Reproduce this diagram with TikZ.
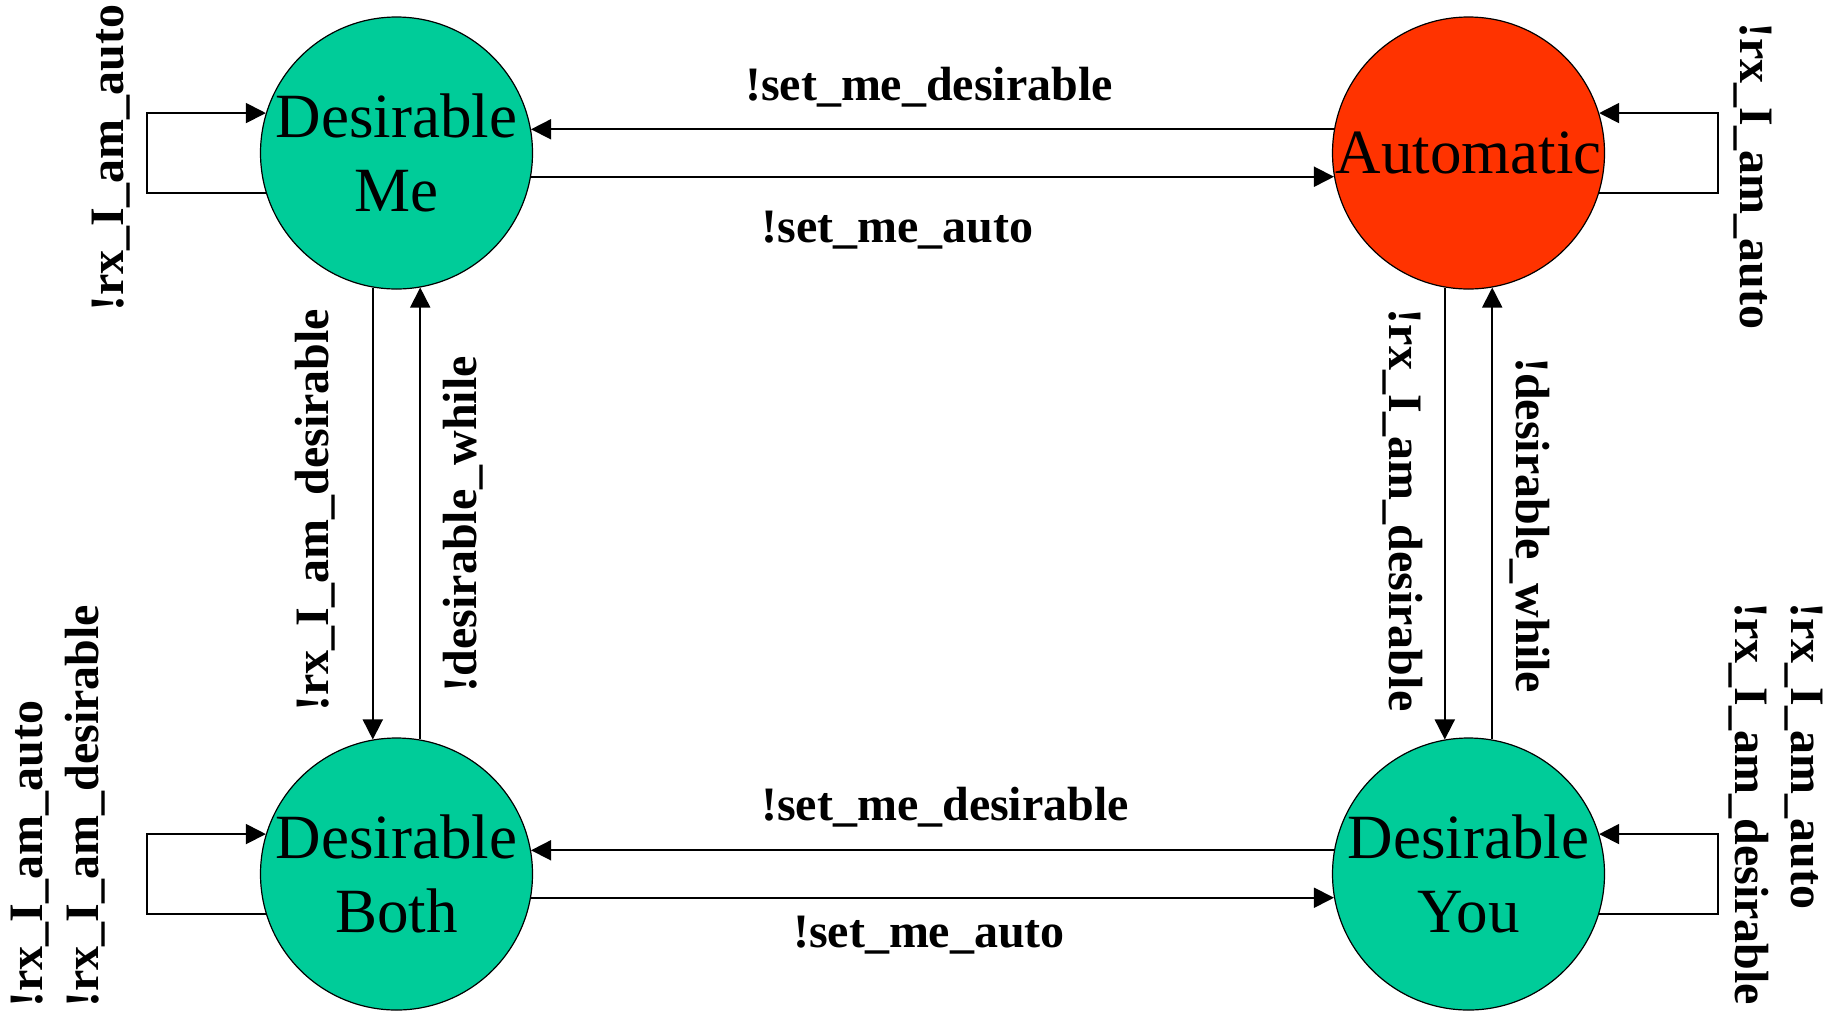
\documentclass[tikz,border=0pt]{standalone}
\usepackage{fontspec}
\setmainfont{Liberation Serif}
\usepackage{tikz}
\usetikzlibrary{arrows.meta}
\definecolor{stategreen}{RGB}{0,204,153}
\definecolor{stateorange}{RGB}{255,51,0}

\begin{document}
\begin{tikzpicture}[x=0.5pt,y=-0.5pt,
    state/.style={circle,draw,line width=0.6pt,minimum size=136pt,inner sep=0pt,align=center,
      font=\fontsize{31.5}{37}\selectfont},
    lbl/.style={inner sep=0pt,align=left,font=\fontsize{24}{28}\selectfont\bfseries},
    trans/.style={line width=0.9pt,-{Triangle[length=10pt,width=10pt]}}]
    \useasboundingbox (0,0) rectangle (1845,1013);

    % states
    \node[state,fill=stategreen] (me) at (396.5,153) {Desirable\\Me};
    \node[state,fill=stateorange] (auto) at (1468.5,153) {Automatic};
    \node[state,fill=stategreen] (both) at (396.5,874) {Desirable\\Both};
    \node[state,fill=stategreen] (you) at (1468.5,874) {Desirable\\You};

    % transitions
    \draw[trans] (auto.170) -- (me.10);
    \draw[trans] (me.-10) -- (auto.190);
    \draw[trans] (you.170) -- (both.10);
    \draw[trans] (both.-10) -- (you.190);
    \draw[trans] (me.-100) -- (both.100);
    \draw[trans] (both.80) -- (me.-80);
    \draw[trans] (auto.-100) -- (you.100);
    \draw[trans] (you.80) -- (auto.-80);

    % self loops
    \draw[trans] (me.197) -- ++(-118.5,0) |- (me.163);
    \draw[trans] (both.197) -- ++(-118.5,0) |- (both.163);
    \draw[trans] (auto.-17) -- ++(118.5,0) |- (auto.17);
    \draw[trans] (you.-17) -- ++(118.5,0) |- (you.17);

    % labels
    \node[lbl] (medes) at (929,87) {!set\_me\_desirable};
    \node[lbl] (meauto) at (897.5,230) {!set\_me\_auto};
    \node[lbl] (bothdes) at (945,807) {!set\_me\_desirable};
    \node[lbl] (bothauto) at (929,935) {!set\_me\_auto};
    \node[lbl,rotate=90] (leftrx) at (315,510) {!rx\_I\_am\_desirable};
    \node[lbl,rotate=90] (leftwhile) at (463,524) {!desirable\_while};
    \node[lbl,rotate=-90] (rightrx) at (1403,510) {!rx\_I\_am\_desirable};
    \node[lbl,rotate=-90] (rightwhile) at (1530,525) {!desirable\_while};
    \node[lbl,rotate=90] (meloop) at (111,158) {!rx\_I\_am\_auto};
    \node[lbl,rotate=-90] (autoloop) at (1753,176) {!rx\_I\_am\_auto};
    \node[lbl,rotate=90,anchor=west] (bothloop) at (58,1008) {!rx\_I\_am\_auto\\!rx\_I\_am\_desirable};
    \node[lbl,rotate=-90,anchor=west] (youloop) at (1776,602) {!rx\_I\_am\_auto\\!rx\_I\_am\_desirable};
\end{tikzpicture}
\end{document}
